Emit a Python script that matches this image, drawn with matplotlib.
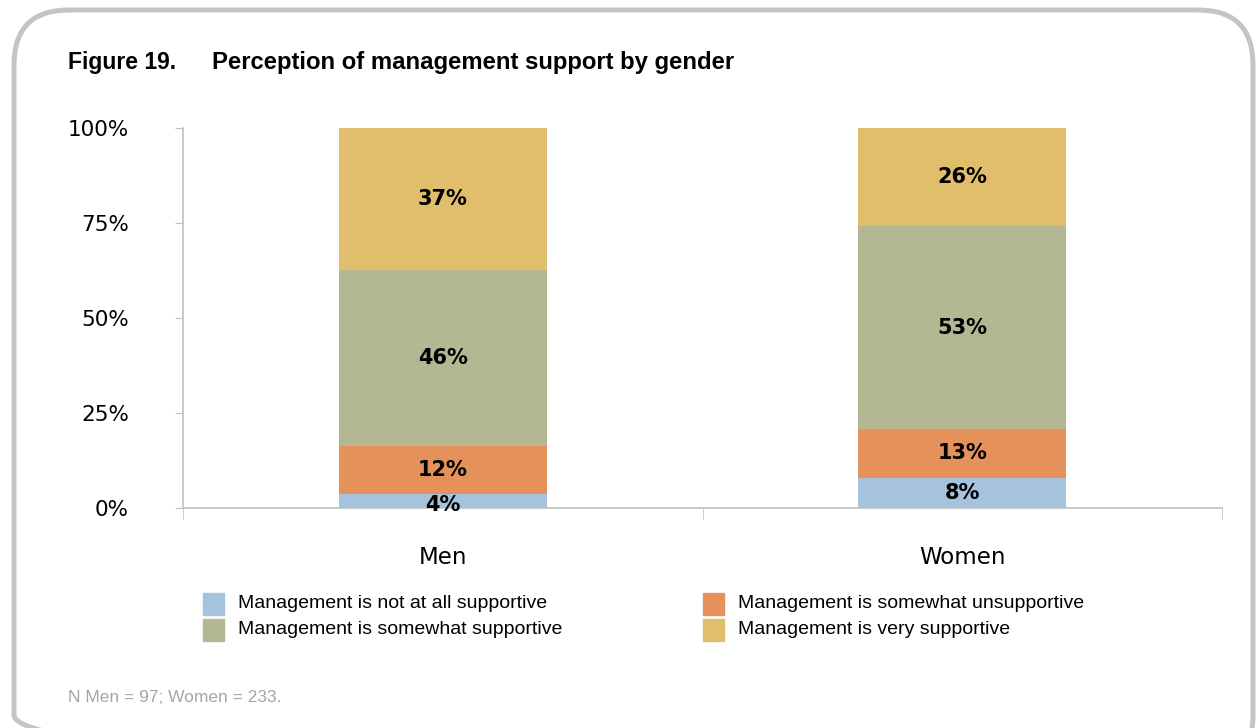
import numpy as np
import matplotlib.pyplot as plt
from matplotlib.patches import FancyBboxPatch, Rectangle

# data (shares of respondents, %)
groups = ["Men", "Women"]
series = ["Management is not at all supportive",
          "Management is somewhat unsupportive",
          "Management is somewhat supportive",
          "Management is very supportive"]
not_at_all = [3.7, 7.9]
somewhat_unsupp = [12.6, 12.9]
somewhat_supp = [46.3, 53.4]
very_supp = [37.4, 25.8]
labels = [["4%", "8%"], ["12%", "13%"], ["46%", "53%"], ["37%", "26%"]]
colors = ["#a5c3dc", "#e5925a", "#b3b892", "#e0be6c"]
yticks = [0, 25, 50, 75, 100]

W, H = 1257, 728
fig = plt.figure(figsize=(W / 100, H / 100), dpi=100)

# overlay in pixel coords for frame, title, legend, note
bg = fig.add_axes([0, 0, 1, 1])
bg.set_xlim(0, W)
bg.set_ylim(H, 0)
bg.axis("off")
frame = FancyBboxPatch((14, 10), 1239, 760, boxstyle="round,pad=0,rounding_size=55",
                       fill=False, ec="#c4c4c4", lw=3.6, clip_on=False)
bg.add_patch(frame)
bg.text(68, 63, "Figure 19.", fontsize=16.5, fontweight="bold", family="Liberation Sans",
        va="center", ha="left")
bg.text(212, 63, "Perception of management support by gender", fontsize=17.2,
        fontweight="bold", family="Liberation Sans", va="center", ha="left")
bg.text(68, 697, "N Men = 97; Women = 233.", fontsize=12.5, color="#a6a6a6",
        family="Liberation Sans", va="center", ha="left")

# legend drawn by hand: two columns
leg_pos = [(203, 604), (703, 604), (203, 630), (703, 630)]
for (lx, ly), name, c in zip(leg_pos, series, colors):
    bg.add_patch(Rectangle((lx, ly - 11), 21, 22, color=c))
    bg.text(lx + 35, ly, name, fontsize=14, family="Liberation Sans", va="center", ha="left")

# main chart
ax = fig.add_axes([183 / W, (H - 508) / H, 1039 / W, 380 / H])
x = np.arange(len(groups))
data = [not_at_all, somewhat_unsupp, somewhat_supp, very_supp]
bottom = np.zeros(len(groups))
for i, vals in enumerate(data):
    vals = np.array(vals)
    ax.bar(x, vals, 0.4, bottom=bottom, color=colors[i], zorder=2)
    for j in range(len(groups)):
        yc = bottom[j] + vals[j] / 2
        if vals[j] < 5:
            yc = bottom[j] + 0.8
        ax.text(x[j], yc, labels[i][j], ha="center", va="center", fontsize=15,
                fontweight="bold", family="DejaVu Sans", zorder=3)
    bottom += vals

ax.set_xlim(-0.5, 1.5)
ax.set_ylim(0, 100)
ax.set_yticks(yticks)
ax.set_yticklabels([f"{t}%" for t in yticks], fontsize=15.5, family="DejaVu Sans")
ax.set_xticks(x)
ax.set_xticklabels(groups, fontsize=16.5, family="DejaVu Sans")
ax.tick_params(axis="x", which="major", length=0, pad=27)
ax.set_xticks([-0.5, 0.5, 1.5], minor=True)
ax.tick_params(axis="x", which="minor", length=8, color="#c0c0c0", direction="out")
ax.tick_params(axis="y", length=6, color="#c0c0c0", pad=33)
for s in ["top", "right"]:
    ax.spines[s].set_visible(False)
for s in ["left", "bottom"]:
    ax.spines[s].set_color("#c0c0c0")
    ax.spines[s].set_linewidth(1.2)

fig.savefig("out.png", dpi=100)
